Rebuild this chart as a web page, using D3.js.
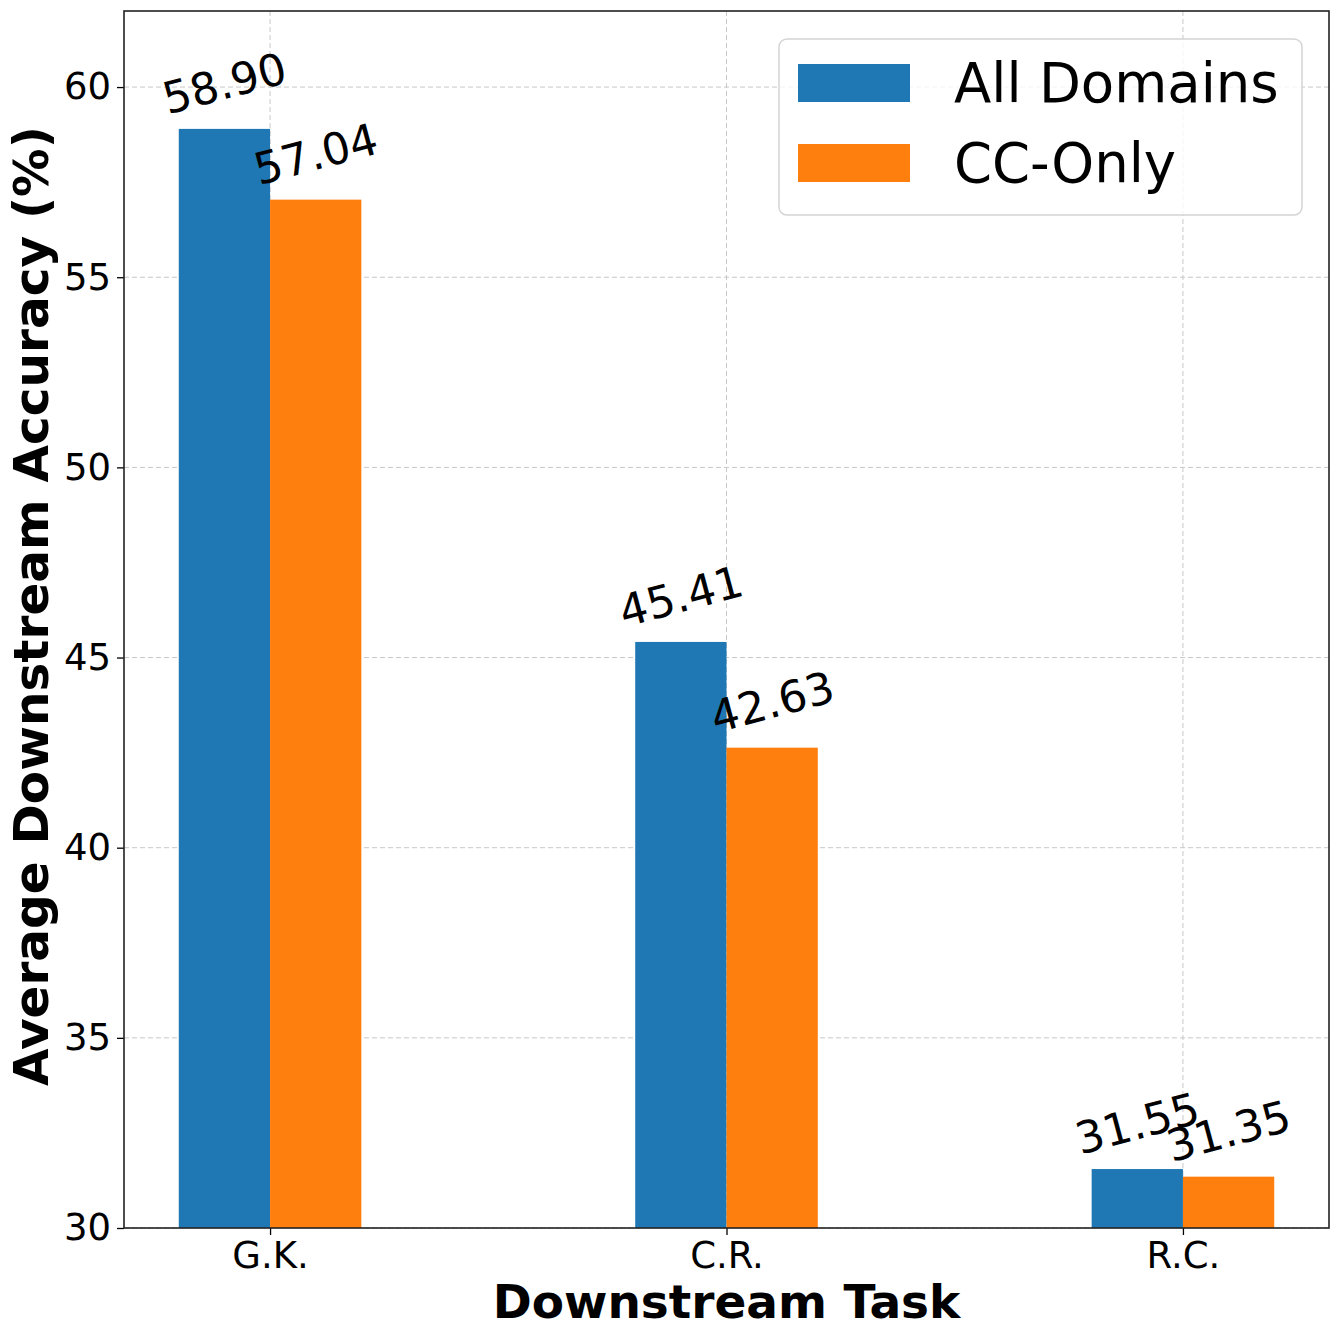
<!DOCTYPE html>
<html>
  <head>
    <meta charset="utf-8">
    <title>Downstream Accuracy</title>
    <script src="https://d3js.org/d3.v7.min.js"></script>
    <style>
      body { margin: 0; background: #fff; }
      text { font-family: "DejaVu Sans", sans-serif; }
    </style>
  </head>
  <body>
    <div class="chart"></div>
    <script>
      // data
      var tasks = ["G.K.", "C.R.", "R.C."];
      var seriesNames = ["All Domains", "CC-Only"];
      var allDomains = [58.90, 45.41, 31.55];
      var ccOnly = [57.04, 42.63, 31.35];
      var yTicks = [30, 35, 40, 45, 50, 55, 60];
      var colors = ["#1f77b4", "#ff7f0e"];

      var width = 1341, height = 1340;
      var plotLeft = 124, plotRight = 1329, plotTop = 11, plotBottom = 1228;

      var svg = d3.select(".chart").append("svg")
        .attr("width", width)
        .attr("height", height);

      // numeric x like matplotlib: categories at 0,1,2, bars +-0.1, width 0.2
      var x = d3.scaleLinear().domain([-0.32, 2.32]).range([plotLeft, plotRight]);
      var y = d3.scaleLinear().domain([30, 62]).range([plotBottom, plotTop]);
      var barW = 0.2;

      // grid
      var grid = svg.append("g");
      grid.selectAll(".hg").data(yTicks).enter().append("line")
        .attr("x1", plotLeft).attr("x2", plotRight)
        .attr("y1", d => y(d)).attr("y2", d => y(d))
        .attr("stroke", "#c8c8c8").attr("stroke-width", 1)
        .attr("stroke-dasharray", "5,3");
      grid.selectAll(".vg").data(tasks).enter().append("line")
        .attr("x1", (d, i) => x(i)).attr("x2", (d, i) => x(i))
        .attr("y1", plotTop).attr("y2", plotBottom)
        .attr("stroke", "#c8c8c8").attr("stroke-width", 1)
        .attr("stroke-dasharray", "5,3");

      // bars
      var series = [allDomains, ccOnly];
      series.forEach(function(vals, s) {
        var off = s === 0 ? -barW / 2 : barW / 2;
        var g = svg.append("g");
        g.selectAll("rect").data(vals).enter().append("rect")
          .attr("x", (d, i) => x(i + off - barW / 2))
          .attr("width", x(barW) - x(0))
          .attr("y", d => y(d))
          .attr("height", d => y(30) - y(d))
          .attr("fill", colors[s]);
        g.selectAll("text").data(vals).enter().append("text")
          .attr("transform", (d, i) => "translate(" + x(i + off) + "," + (y(d) - 46) + ") rotate(-15)")
          .attr("text-anchor", "middle")
          .attr("dy", "0.36em")
          .attr("font-size", 44)
          .text(d => d.toFixed(2));
      });

      // axes
      var yAxis = svg.append("g")
        .attr("transform", "translate(" + plotLeft + ",0)")
        .call(d3.axisLeft(y).tickValues(yTicks).tickSize(7).tickPadding(6));
      yAxis.selectAll("text").attr("font-size", 37).attr("font-family", "DejaVu Sans").attr("fill", "#000");
      yAxis.selectAll("line").attr("stroke", "#000").attr("stroke-width", 1.3);
      yAxis.select(".domain").remove();

      var xAxis = svg.append("g")
        .attr("transform", "translate(0," + plotBottom + ")")
        .call(d3.axisBottom(x).tickValues([0, 1, 2]).tickFormat(i => tasks[i]).tickSize(7).tickPadding(7));
      xAxis.selectAll("text").attr("font-size", 37).attr("font-family", "DejaVu Sans").attr("fill", "#000");
      xAxis.selectAll("line").attr("stroke", "#000").attr("stroke-width", 1.3);
      xAxis.select(".domain").remove();

      svg.append("rect")
        .attr("x", plotLeft).attr("y", plotTop)
        .attr("width", plotRight - plotLeft).attr("height", plotBottom - plotTop)
        .attr("fill", "none").attr("stroke", "#222").attr("stroke-width", 1.6);

      // axis titles
      svg.append("text")
        .attr("x", (plotLeft + plotRight) / 2).attr("y", 1318)
        .attr("text-anchor", "middle")
        .attr("font-size", 47).attr("font-weight", "bold")
        .text("Downstream Task");
      svg.append("text")
        .attr("transform", "translate(48,606) rotate(-90)")
        .attr("text-anchor", "middle")
        .attr("font-size", 48.5).attr("font-weight", "bold")
        .text("Average Downstream Accuracy (%)");

      // legend
      var legend = svg.append("g");
      legend.append("rect")
        .attr("x", 779).attr("y", 39).attr("width", 523).attr("height", 176)
        .attr("rx", 8).attr("ry", 8)
        .attr("fill", "#fff").attr("fill-opacity", 0.8)
        .attr("stroke", "#d4d4d4").attr("stroke-width", 1.5);
      seriesNames.forEach(function(name, i) {
        legend.append("rect")
          .attr("x", 798).attr("y", 64 + i * 80).attr("width", 112).attr("height", 38)
          .attr("fill", colors[i]);
        legend.append("text")
          .attr("x", 954).attr("y", 102 + i * 80)
          .attr("font-size", 54.5)
          .text(name);
      });
    </script>
  </body>
</html>
